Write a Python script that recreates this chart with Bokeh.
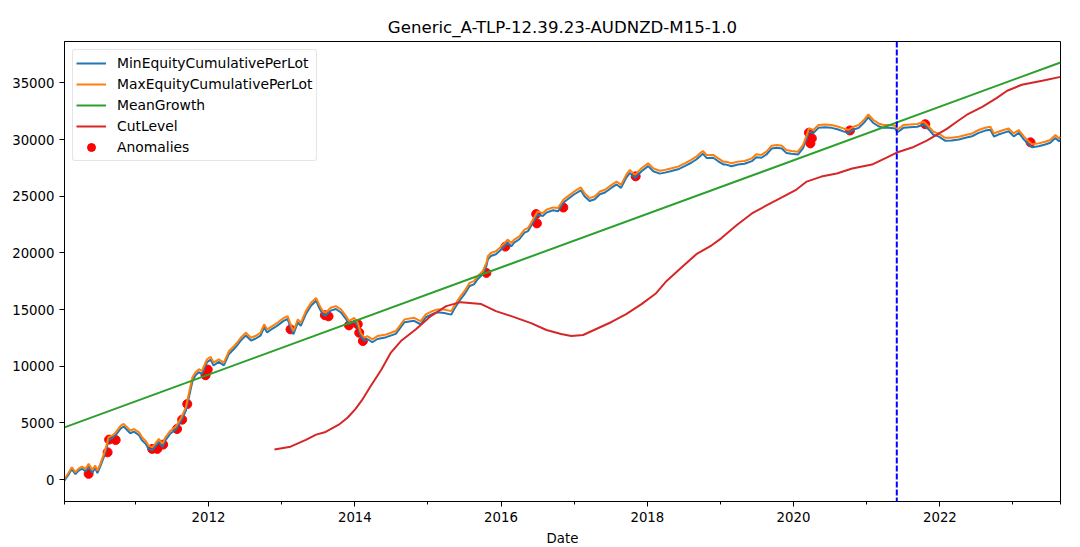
import pandas as pd
from bokeh.plotting import figure
from bokeh.models import (Range1d, FixedTicker, DatetimeTickFormatter, Span,
                          Legend, LegendItem)
from bokeh.embed import file_html
from bokeh.resources import INLINE

title_text = "Generic_A-TLP-12.39.23-AUDNZD-M15-1.0"

# Equity curves (decimal years, values)
equity_years = [
    2010.03, 2010.09, 2010.13, 2010.18, 2010.22, 2010.27, 2010.32, 2010.36, 2010.41, 2010.45,
    2010.48, 2010.52, 2010.57, 2010.61, 2010.63, 2010.68, 2010.73, 2010.80, 2010.84, 2010.89,
    2010.93, 2010.98, 2011.05, 2011.09, 2011.14, 2011.18, 2011.23, 2011.27, 2011.32, 2011.37,
    2011.41, 2011.48, 2011.55, 2011.59, 2011.64, 2011.69, 2011.73, 2011.78, 2011.82, 2011.87,
    2011.91, 2011.98, 2012.03, 2012.07, 2012.14, 2012.21, 2012.28, 2012.35, 2012.39, 2012.44,
    2012.51, 2012.58, 2012.64, 2012.71, 2012.76, 2012.80, 2012.87, 2012.94, 2013.03, 2013.08,
    2013.12, 2013.16, 2013.22, 2013.26, 2013.33, 2013.40, 2013.47, 2013.51, 2013.56, 2013.60,
    2013.67, 2013.74, 2013.81, 2013.88, 2013.92, 2013.99, 2014.04, 2014.08, 2014.13, 2014.17,
    2014.24, 2014.31, 2014.43, 2014.56, 2014.68, 2014.81, 2014.90, 2014.97, 2015.06, 2015.13,
    2015.22, 2015.32, 2015.36, 2015.43, 2015.50, 2015.57, 2015.63, 2015.68, 2015.75, 2015.80,
    2015.82, 2015.86, 2015.93, 2015.98, 2016.05, 2016.09, 2016.14, 2016.18, 2016.25, 2016.32,
    2016.37, 2016.41, 2016.46, 2016.50, 2016.57, 2016.62, 2016.71, 2016.78, 2016.85, 2016.91,
    2017.00, 2017.09, 2017.14, 2017.21, 2017.28, 2017.35, 2017.42, 2017.51, 2017.58, 2017.64,
    2017.71, 2017.76, 2017.83, 2017.92, 2018.01, 2018.08, 2018.17, 2018.24, 2018.33, 2018.42,
    2018.51, 2018.60, 2018.67, 2018.72, 2018.76, 2018.81, 2018.90, 2018.97, 2019.04, 2019.08,
    2019.15, 2019.24, 2019.33, 2019.43, 2019.49, 2019.56, 2019.63, 2019.70, 2019.77, 2019.84,
    2019.90, 2019.97, 2020.06, 2020.13, 2020.18, 2020.21, 2020.27, 2020.34, 2020.43, 2020.52,
    2020.61, 2020.68, 2020.75, 2020.82, 2020.89, 2020.96, 2021.02, 2021.09, 2021.16, 2021.23,
    2021.30, 2021.39, 2021.41, 2021.43, 2021.50, 2021.59, 2021.69, 2021.78, 2021.85, 2021.91,
    2021.98, 2022.07, 2022.16, 2022.26, 2022.35, 2022.44, 2022.53, 2022.62, 2022.69, 2022.74,
    2022.80, 2022.87, 2022.94, 2023.01, 2023.08, 2023.15, 2023.22, 2023.26, 2023.35, 2023.44,
    2023.51, 2023.58, 2023.63, 2023.65,
]
max_equity = [
    50, 640, 1080, 640, 940, 1140, 940, 1380, 850, 1230,
    790, 1380, 2260, 3140, 3720, 3870, 4160, 4750, 4900, 4600,
    4310, 4460, 4160, 3720, 3430, 2990, 2840, 3140, 3580, 3140,
    3720, 4310, 4660, 5040, 5630, 6360, 7540, 9000, 9440, 9730,
    9590, 10610, 10820, 10320, 10610, 10320, 11340, 11780, 12070, 12510,
    12950, 12510, 12660, 12950, 13690, 13250, 13540, 13830, 14270, 14420,
    13690, 13100, 14130, 13830, 14860, 15590, 16030, 15450, 14860, 14710,
    15150, 15300, 15010, 14420, 13980, 14270, 13830, 12950, 12510, 12660,
    12370, 12660, 12800, 13100, 14130, 14270, 13980, 14570, 14860, 15010,
    15010, 14860, 15300, 16030, 16620, 17350, 17500, 17940, 18380, 19110,
    19700, 19990, 20140, 20430, 20870, 21170, 20870, 21170, 21460, 22050,
    22190, 22630, 23220, 23660, 23510, 23800, 24010, 23950, 24690, 24980,
    25420, 25770, 25270, 24830, 24980, 25420, 25570, 26000, 26290, 26000,
    26880, 27320, 26880, 27460, 27900, 27460, 27240, 27320, 27460, 27610,
    27900, 28200, 28490, 28780, 28990, 28640, 28640, 28340, 28050, 28050,
    27900, 28050, 28110, 28340, 28700, 28640, 28930, 29460, 29520, 29460,
    29080, 28990, 28930, 29520, 30400, 30980, 30840, 31280, 31330, 31280,
    31130, 30980, 30840, 31130, 31280, 31720, 32210, 31720, 31420, 31280,
    31280, 31220, 30980, 30930, 31280, 31330, 31370, 31570, 31130, 30690,
    30540, 30160, 30160, 30250, 30400, 30540, 30840, 31040, 31130, 30540,
    30690, 30840, 30980, 30540, 30840, 30250, 29810, 29580, 29660, 29810,
    29960, 30400, 30100, 30250,
]
min_equity = [
    -90, 480, 900, 470, 760, 950, 720, 1150, 600, 1020,
    560, 1160, 2020, 2880, 3450, 3640, 3920, 4520, 4680, 4350,
    4080, 4230, 3900, 3460, 3150, 2700, 2580, 2880, 3320, 2870,
    3450, 4060, 4400, 4780, 5350, 6050, 7200, 8650, 9180, 9480,
    9300, 10350, 10580, 10060, 10380, 10070, 11080, 11540, 11830, 12260,
    12700, 12260, 12420, 12700, 13420, 12980, 13300, 13580, 14020, 14160,
    13400, 12820, 13870, 13560, 14600, 15330, 15780, 15180, 14580, 14450,
    14900, 15050, 14740, 14140, 13700, 14000, 13550, 12650, 12230, 12400,
    12110, 12400, 12560, 12850, 13880, 14000, 13700, 14320, 14600, 14760,
    14700, 14550, 15040, 15750, 16350, 17080, 17220, 17680, 18100, 18830,
    19420, 19720, 19880, 20160, 20600, 20900, 20580, 20900, 21200, 21780,
    21920, 22360, 22950, 23400, 23250, 23550, 23760, 23680, 24430, 24730,
    25170, 25520, 25000, 24570, 24730, 25170, 25320, 25750, 26040, 25730,
    26620, 27060, 26600, 27200, 27650, 27200, 26990, 27080, 27220, 27370,
    27650, 27950, 28240, 28520, 28740, 28380, 28390, 28080, 27800, 27790,
    27640, 27800, 27860, 28090, 28440, 28390, 28680, 29200, 29270, 29210,
    28820, 28740, 28670, 29250, 30100, 30700, 30580, 31030, 31080, 31030,
    30880, 30720, 30580, 30880, 31030, 31470, 31950, 31460, 31170, 31030,
    31030, 30970, 30720, 30680, 31030, 31090, 31130, 31320, 30870, 30420,
    30280, 29900, 29910, 30000, 30150, 30290, 30590, 30790, 30870, 30270,
    30440, 30590, 30730, 30280, 30590, 29990, 29540, 29320, 29410, 29560,
    29710, 30140, 29840, 30000,
]

mean_growth_years = [2010.03, 2023.65]
mean_growth = [4600, 36800]

cut_years = [
    2012.90, 2013.12, 2013.33, 2013.47, 2013.60, 2013.78, 2013.90, 2014.01, 2014.11, 2014.22,
    2014.36, 2014.49, 2014.63, 2014.84, 2015.04, 2015.25, 2015.45, 2015.73, 2015.93, 2016.14,
    2016.41, 2016.62, 2016.82, 2016.96, 2017.12, 2017.30, 2017.51, 2017.71, 2017.92, 2018.12,
    2018.26, 2018.47, 2018.67, 2018.88, 2019.01, 2019.22, 2019.43, 2019.63, 2019.84, 2020.04,
    2020.18, 2020.38, 2020.59, 2020.80, 2021.07, 2021.27, 2021.41, 2021.62, 2021.82, 2021.96,
    2022.10, 2022.23, 2022.37, 2022.58, 2022.78, 2022.92, 2023.12, 2023.40, 2023.65,
]
cut_level = [
    2640, 2900, 3500, 3960, 4200, 4840, 5450, 6240, 7120, 8270,
    9670, 11170, 12220, 13280, 14420, 15300, 15650, 15480, 14860, 14420,
    13800, 13190, 12840, 12660, 12750, 13280, 13900, 14600, 15480, 16440,
    17500, 18730, 19880, 20670, 21280, 22430, 23480, 24180, 24890, 25590,
    26290, 26730, 27000, 27440, 27790, 28400, 28850, 29290, 29900, 30430,
    30960, 31570, 32190, 32890, 33680, 34300, 34830, 35180, 35530,
]

anomaly_years = [
    2010.36, 2010.62, 2010.64, 2010.73, 2011.23, 2011.30, 2011.38, 2011.57, 2011.64, 2011.71,
    2011.96, 2011.99, 2013.12, 2013.59, 2013.64, 2013.92, 2014.04, 2014.06, 2014.11, 2015.80,
    2016.06, 2016.48, 2016.49, 2016.85, 2017.84, 2020.21, 2020.23, 2020.25, 2020.77, 2021.80,
    2023.24,
]
anomaly_values = [
    500, 2400, 3520, 3490, 2700, 2700, 3080, 4460, 5280, 6660,
    9200, 9700, 13250, 14500, 14400, 13600, 13700, 12950, 12220, 18230,
    20550, 23420, 22600, 24000, 26750, 30600, 29660, 30100, 30800, 31350,
    29750,
]

split_year = 2021.41

x_major_years = [2012, 2014, 2016, 2018, 2020, 2022]
x_minor_years = [2010.03, 2011, 2013, 2015, 2017, 2019, 2021, 2023, 2023.65]
y_ticks = [0, 5000, 10000, 15000, 20000, 25000, 30000, 35000]


def to_ms(y):
    yr = int(y)
    start = pd.Timestamp(yr, 1, 1)
    end = pd.Timestamp(yr + 1, 1, 1)
    ts = start + (end - start) * (y - yr)
    return ts.value / 1e6


FONT = "DejaVu Sans"

p = figure(frame_width=996, frame_height=460, x_axis_type="datetime",
           output_backend="svg", toolbar_location=None,
           x_range=Range1d(to_ms(equity_years[0]), to_ms(equity_years[-1])),
           y_range=Range1d(-1940, 38650),
           min_border_left=64, min_border_right=20, min_border_top=41,
           min_border_bottom=46,
           background_fill_color="white", border_fill_color="white")

p.title.text = title_text
p.title.align = "center"
p.title.text_font = FONT
p.title.text_font_size = "16.6px"
p.title.text_font_style = "normal"
p.title.text_color = "black"

p.grid.visible = False
p.outline_line_color = "black"
p.outline_line_width = 1

ex = [to_ms(v) for v in equity_years]

# scatter below lines (matplotlib zorder)
r_anom = p.scatter([to_ms(v) for v in anomaly_years], anomaly_values, size=9,
                   color="red", line_color="red")
r_min = p.line(ex, min_equity, line_color="#1f77b4", line_width=2)
r_max = p.line(ex, max_equity, line_color="#ff7f0e", line_width=2)
r_mean = p.line([to_ms(v) for v in mean_growth_years], mean_growth,
                line_color="#2ca02c", line_width=2)
r_cut = p.line([to_ms(v) for v in cut_years], cut_level,
               line_color="#d62728", line_width=2)

p.add_layout(Span(location=to_ms(split_year), dimension="height",
                  line_color="blue", line_dash="6 2", line_width=2))

legend = Legend(items=[
    LegendItem(label="MinEquityCumulativePerLot", renderers=[r_min]),
    LegendItem(label="MaxEquityCumulativePerLot", renderers=[r_max]),
    LegendItem(label="MeanGrowth", renderers=[r_mean]),
    LegendItem(label="CutLevel", renderers=[r_cut]),
    LegendItem(label="Anomalies", renderers=[r_anom]),
], location="top_left")
legend.label_text_font = FONT
legend.label_text_font_size = "13.9px"
legend.label_text_color = "black"
legend.glyph_width = 30
legend.glyph_height = 20
legend.label_height = 20
legend.spacing = 1
legend.padding = 3
legend.margin = 8
legend.label_standoff = 11
legend.border_line_color = "#cccccc"
legend.border_line_width = 1
legend.background_fill_alpha = 0.8
if "border_radius" in Legend.properties():
    legend.border_radius = 3
p.add_layout(legend)

xa = p.xaxis[0]
xa.ticker = FixedTicker(ticks=[to_ms(v) for v in x_major_years],
                        minor_ticks=[to_ms(v) for v in x_minor_years])
xa.formatter = DatetimeTickFormatter(years="%Y", months="%Y", days="%Y")
xa.axis_label = "Date"

ya = p.yaxis[0]
ya.ticker = FixedTicker(ticks=y_ticks)

for ax in (xa, ya):
    ax.axis_line_color = "black"
    ax.major_tick_line_color = "black"
    ax.minor_tick_line_color = "black"
    ax.major_tick_out = 5
    ax.major_tick_in = 0
    ax.minor_tick_out = 3
    ax.minor_tick_in = 0
    ax.major_label_text_font = FONT
    ax.major_label_text_font_size = "13.3px"
    ax.major_label_text_color = "black"
    ax.major_label_standoff = 5
    ax.axis_label_text_font = FONT
    ax.axis_label_text_font_size = "13.3px"
    ax.axis_label_text_font_style = "normal"
    ax.axis_label_text_color = "black"
    ax.axis_label_standoff = 6

open("out.html", "w").write(file_html(p, INLINE))
